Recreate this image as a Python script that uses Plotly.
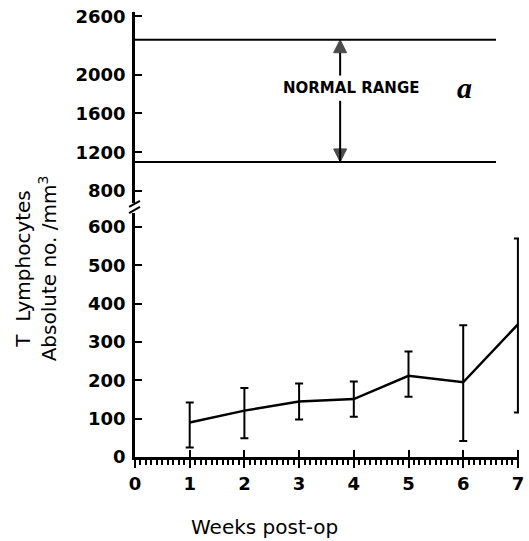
import plotly.graph_objects as go

# ---- data ----
weeks = [1, 2, 3, 4, 5, 6, 7]
t_mean = [90, 121, 145, 151, 212, 195, 346]
t_upper = [142, 180, 192, 197, 275, 344, 570]
t_lower = [25, 49, 98, 105, 157, 42, 116]
normal_range = [1100, 2360]
normal_range_x = [0, 6.6]
arrow_x = 3.75
arrow_tails = [1990, 1730]
lower_ticks = [0, 100, 200, 300, 400, 500, 600]
upper_ticks = [800, 1200, 1600, 2000, 2600]
x_ticks = [0, 1, 2, 3, 4, 5, 6, 7]

err_plus = [u - m for u, m in zip(t_upper, t_mean)]
err_minus = [m - l for m, l in zip(t_mean, t_lower)]

XR = [0, 7.02]
tickfont = dict(family="DejaVu Sans", size=18, color="black", weight="bold")

fig = go.Figure()
fig.add_trace(go.Scatter(
    x=weeks, y=t_mean, mode="lines",
    line=dict(color="black", width=2.5),
    error_y=dict(type="data", symmetric=False, array=err_plus, arrayminus=err_minus,
                 color="black", thickness=2, width=4),
    xaxis="x", yaxis="y", showlegend=False))
for v in normal_range:
    fig.add_trace(go.Scatter(x=normal_range_x, y=[v, v], mode="lines",
                             line=dict(color="black", width=2),
                             xaxis="x2", yaxis="y2", showlegend=False))
# normal range arrows (tip of arrow symbol sits at the data point)
for head, tail, sym in zip(normal_range[::-1], arrow_tails, ["arrow-up", "arrow-down"]):
    fig.add_trace(go.Scatter(x=[arrow_x, arrow_x], y=[tail, head], mode="lines+markers",
                             line=dict(color="black", width=2),
                             marker=dict(symbol=["circle", sym], size=[0, 13], color="black",
                                         line=dict(width=1, color="black")),
                             xaxis="x2", yaxis="y2", showlegend=False, hoverinfo="skip"))
fig.add_trace(go.Scatter(x=[None], y=[None], xaxis="x3", yaxis="y", showlegend=False))

common_y = dict(ticks="inside", ticklen=7, tickwidth=2, tickcolor="black",
                showline=True, linewidth=2.5, linecolor="black",
                showgrid=False, zeroline=False, tickfont=tickfont,
                tickmode="array", ticklabelstandoff=3)

fig.update_layout(
    width=529, height=541,
    margin=dict(l=135, r=5, t=12, b=84),
    paper_bgcolor="white", plot_bgcolor="white",
    xaxis=dict(domain=[0, 1], range=XR, anchor="y", tickmode="array", tickvals=x_ticks,
               ticks="outside", ticklen=8, tickwidth=2, tickcolor="black",
               showline=True, linewidth=2.5, linecolor="black",
               showgrid=False, zeroline=False, tickfont=tickfont,
               ticklabelstandoff=1, ticklabeloverflow="allow",
               minor=dict(tickmode="linear", tick0=0, dtick=0.1, ticks="outside",
                          ticklen=5, tickwidth=1.5, tickcolor="black", showgrid=False)),
    xaxis3=dict(overlaying="x", anchor="y", range=XR, tickmode="linear", tick0=0, dtick=1,
                ticks="inside", ticklen=7, tickwidth=2, tickcolor="black",
                showticklabels=False, showline=False, showgrid=False, zeroline=False),
    xaxis2=dict(domain=[0, 1], range=XR, anchor="y2", visible=False),
    yaxis=dict(domain=[0, 0.5483], range=[0, 636.5], anchor="x", tickvals=lower_ticks,
               **common_y),
    yaxis2=dict(domain=[0.5708, 1], range=[676, 2646], anchor="x2", tickvals=upper_ticks,
                **common_y),
    showlegend=False,
)

# axis break marks
for y0, y1 in [(0.5618, 0.5753), (0.5483, 0.5618)]:
    fig.add_shape(type="line", xref="paper", yref="paper", x0=-0.0154, x1=0.0129,
                  y0=y0, y1=y1, line=dict(color="black", width=2))

fig.add_annotation(x=3.95, y=1866, xref="x2", yref="y2", text="NORMAL RANGE",
                   showarrow=False, font=dict(family="DejaVu Sans", size=15, color="black",
                                              weight="bold"))
fig.add_annotation(x=6.03, y=1866, xref="x2", yref="y2", text="<i>a</i>",
                   showarrow=False, font=dict(family="Liberation Serif", size=30, color="black",
                                              weight="bold"))

fig.add_annotation(x=0.3368, y=-0.157, xref="paper", yref="paper", text="Weeks post-op",
                   xanchor="center", yanchor="middle",
                   showarrow=False, font=dict(family="DejaVu Sans", size=20, color="black"))
fig.add_annotation(x=-0.257, y=0.4247, xref="paper", yref="paper", textangle=-90,
                   xanchor="center", yanchor="middle",
                   text="T  Lymphocytes<br>Absolute no. /mm<sup>3</sup>",
                   showarrow=False, font=dict(family="DejaVu Sans", size=20, color="black"))

fig.write_html("out.html")
